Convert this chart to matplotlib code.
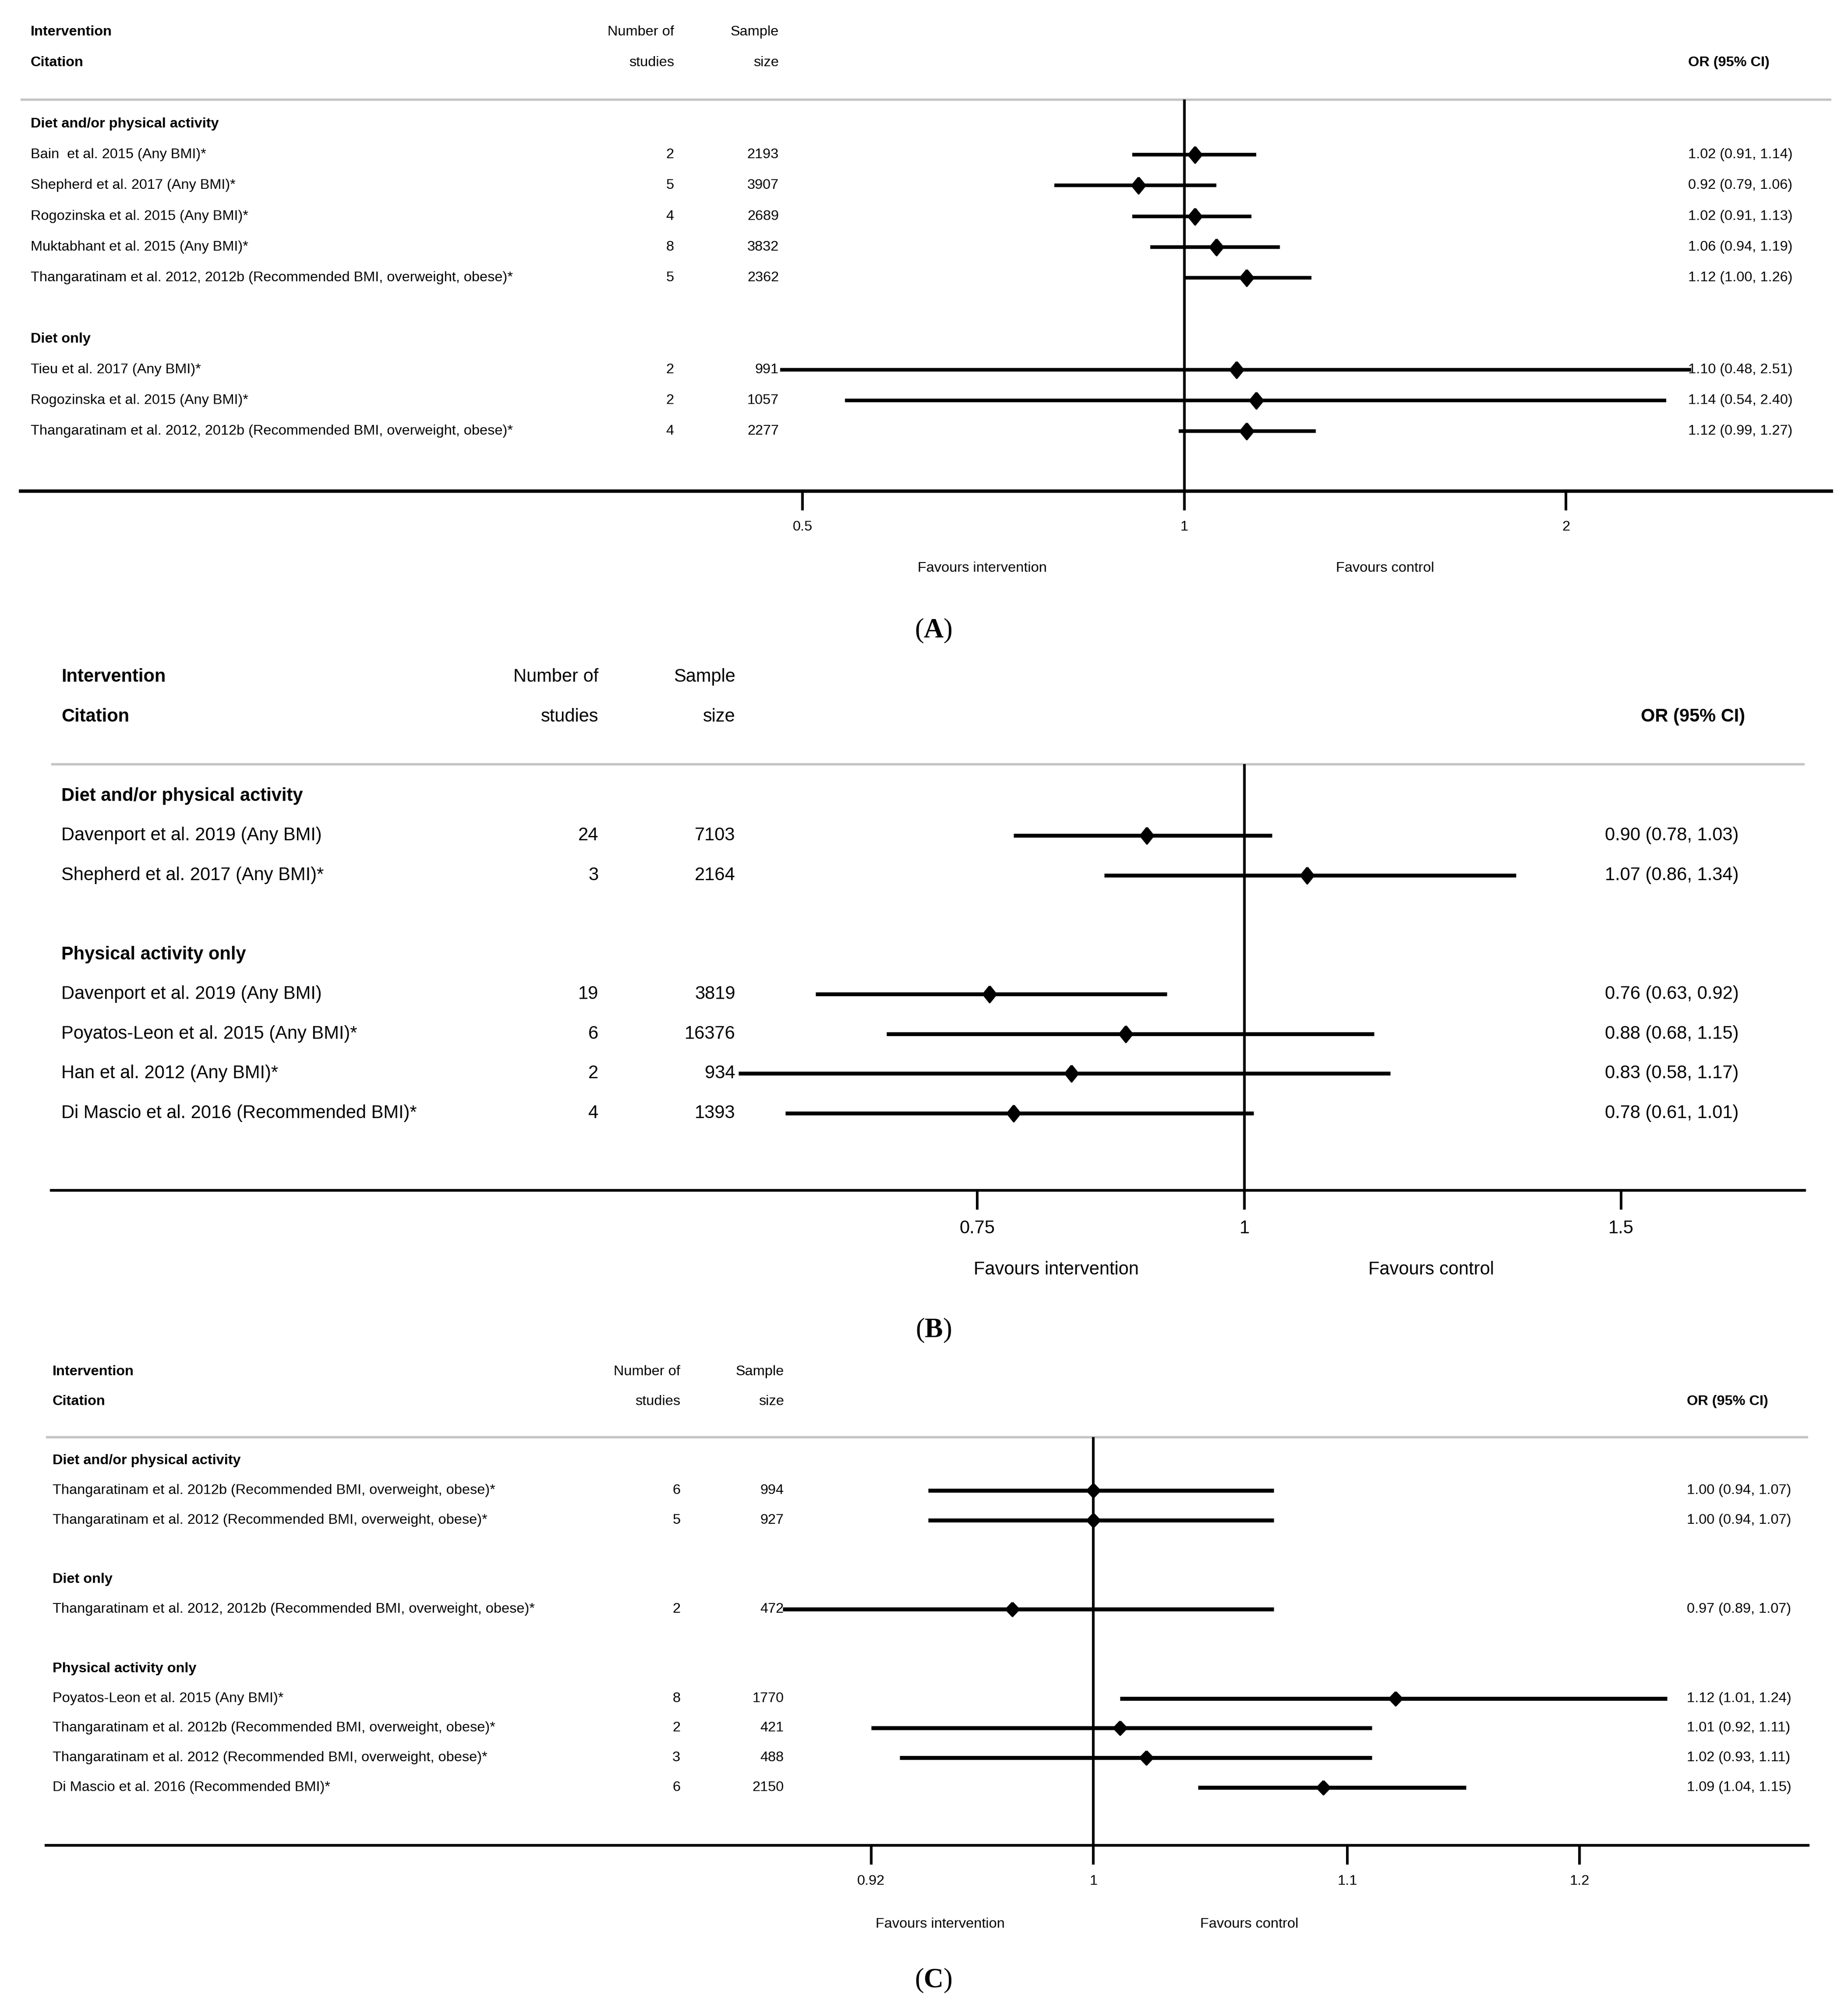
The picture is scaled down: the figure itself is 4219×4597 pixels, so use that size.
import matplotlib
matplotlib.use("Agg")
import matplotlib.pyplot as plt
from matplotlib import transforms
from matplotlib.ticker import NullLocator

plt.rcParams['font.family'] = ['Liberation Sans', 'DejaVu Sans']
plt.rcParams['mathtext.fontset'] = 'custom'
plt.rcParams['mathtext.rm'] = 'Liberation Serif'
plt.rcParams['mathtext.bf'] = 'Liberation Serif:bold'

# ---- panel A data
a_groups = ["Diet and/or physical activity", "Diet only"]
a_group_of = [0, 0, 0, 0, 0, 1, 1, 1]
a_cites = ["Bain  et al. 2015 (Any BMI)*",
           "Shepherd et al. 2017 (Any BMI)*",
           "Rogozinska et al. 2015 (Any BMI)*",
           "Muktabhant et al. 2015 (Any BMI)*",
           "Thangaratinam et al. 2012, 2012b (Recommended BMI, overweight, obese)*",
           "Tieu et al. 2017 (Any BMI)*",
           "Rogozinska et al. 2015 (Any BMI)*",
           "Thangaratinam et al. 2012, 2012b (Recommended BMI, overweight, obese)*"]
a_studies = [2, 5, 4, 8, 5, 2, 2, 4]
a_sample = [2193, 3907, 2689, 3832, 2362, 991, 1057, 2277]
a_or = [1.02, 0.92, 1.02, 1.06, 1.12, 1.10, 1.14, 1.12]
a_lo = [0.91, 0.79, 0.91, 0.94, 1.00, 0.48, 0.54, 0.99]
a_hi = [1.14, 1.06, 1.13, 1.19, 1.26, 2.51, 2.40, 1.27]
a_ticks = [0.5, 1, 2]
a_ticklabels = ["0.5", "1", "2"]

# ---- panel B data
b_groups = ["Diet and/or physical activity", "Physical activity only"]
b_group_of = [0, 0, 1, 1, 1, 1]
b_cites = ["Davenport et al. 2019 (Any BMI)",
           "Shepherd et al. 2017 (Any BMI)*",
           "Davenport et al. 2019 (Any BMI)",
           "Poyatos-Leon et al. 2015 (Any BMI)*",
           "Han et al. 2012 (Any BMI)*",
           "Di Mascio et al. 2016 (Recommended BMI)*"]
b_studies = [24, 3, 19, 6, 2, 4]
b_sample = [7103, 2164, 3819, 16376, 934, 1393]
b_or = [0.90, 1.07, 0.76, 0.88, 0.83, 0.78]
b_lo = [0.78, 0.86, 0.63, 0.68, 0.58, 0.61]
b_hi = [1.03, 1.34, 0.92, 1.15, 1.17, 1.01]
b_ticks = [0.75, 1, 1.5]
b_ticklabels = ["0.75", "1", "1.5"]

# ---- panel C data
c_groups = ["Diet and/or physical activity", "Diet only", "Physical activity only"]
c_group_of = [0, 0, 1, 2, 2, 2, 2]
c_cites = ["Thangaratinam et al. 2012b (Recommended BMI, overweight, obese)*",
           "Thangaratinam et al. 2012 (Recommended BMI, overweight, obese)*",
           "Thangaratinam et al. 2012, 2012b (Recommended BMI, overweight, obese)*",
           "Poyatos-Leon et al. 2015 (Any BMI)*",
           "Thangaratinam et al. 2012b (Recommended BMI, overweight, obese)*",
           "Thangaratinam et al. 2012 (Recommended BMI, overweight, obese)*",
           "Di Mascio et al. 2016 (Recommended BMI)*"]
c_studies = [6, 5, 2, 8, 2, 3, 6]
c_sample = [994, 927, 472, 1770, 421, 488, 2150]
c_or = [1.00, 1.00, 0.97, 1.12, 1.01, 1.02, 1.09]
c_lo = [0.94, 0.94, 0.89, 1.01, 0.92, 0.93, 1.04]
c_hi = [1.07, 1.07, 1.07, 1.24, 1.11, 1.11, 1.15]
c_ticks = [0.92, 1, 1.1, 1.2]
c_ticklabels = ["0.92", "1", "1.1", "1.2"]

FW, FH = 1445.0, 1574.0   # reference layout frame
fig = plt.figure(figsize=(4219 / 300, 4597 / 300), dpi=300)


def diamond(ratio):
    w = 0.5 * ratio
    return [(0, 0.5), (w, 0), (0, -0.5), (-w, 0), (0, 0.5)]


def draw_panel(left, right, y0, dy, xlim, groups, group_of, cites, studies, sample,
               est, lo, hi, ticks, ticklabels, cols, fs, lw_ci, lw_axis, ms, ratio,
               fav_x, fav_row, label, label_y):
    # row positions: group header, items, blank row between groups
    rows, grow = [], []
    y = 3
    for g in range(len(groups)):
        grow.append(y)
        n = group_of.count(g)
        rows += [y + 1 + i for i in range(n)]
        y += n + 2
    bottom = rows[-1] + 1.95
    gray = 2.2

    ax = fig.add_axes([left / FW, 1 - (y0 + dy * bottom) / FH,
                       (right - left) / FW, dy * (bottom + 0.5) / FH])
    ax.set_xscale('log')
    ax.set_xlim(*xlim)
    ax.set_ylim(bottom, -0.5)
    for s in ['top', 'left', 'right']:
        ax.spines[s].set_visible(False)
    ax.spines['bottom'].set_linewidth(lw_axis)
    ax.set_yticks([])
    ax.set_xticks(ticks)
    ax.set_xticklabels(ticklabels)
    ax.xaxis.set_minor_locator(NullLocator())
    ax.tick_params(axis='x', direction='out', length=10.5, width=1.45,
                   pad=5.5, labelsize=fs)

    ax.axhline(gray, color='#c4c4c4', lw=1.3)
    ax.vlines(1, gray, bottom, color='black', lw=1.45)
    ax.hlines(rows, lo, hi, color='black', lw=lw_ci, zorder=2)
    ax.plot(est, rows, linestyle='none', marker=diamond(ratio), ms=ms,
            color='black', zorder=3)

    tr = transforms.blended_transform_factory(ax.transAxes, ax.transData)
    fx = [(c - left) / (right - left) for c in cols]
    kw = dict(transform=tr, fontsize=fs, va='center')
    ax.text(fx[0], 0, "Intervention", fontweight='bold', ha='left', **kw)
    ax.text(fx[0], 1, "Citation", fontweight='bold', ha='left', **kw)
    ax.text(fx[1], 0, "Number of", ha='right', **kw)
    ax.text(fx[1], 1, "studies", ha='right', **kw)
    ax.text(fx[2], 0, "Sample", ha='right', **kw)
    ax.text(fx[2], 1, "size", ha='right', **kw)
    ax.text(fx[4], 1, "OR (95% CI)", fontweight='bold', ha='left', **kw)
    for g, name in enumerate(groups):
        ax.text(fx[0], grow[g], name, fontweight='bold', ha='left', **kw)
    for i, r in enumerate(rows):
        ax.text(fx[0], r, cites[i], ha='left', **kw)
        ax.text(fx[1], r, str(studies[i]), ha='right', **kw)
        ax.text(fx[2], r, str(sample[i]), ha='right', **kw)
        ax.text(fx[3], r, f"{est[i]:.2f} ({lo[i]:.2f}, {hi[i]:.2f})", ha='left', **kw)

    ax.text((fav_x[0] - left) / (right - left), fav_row, "Favours intervention",
            ha='center', **kw)
    ax.text((fav_x[1] - left) / (right - left), fav_row, "Favours control",
            ha='center', **kw)

    fig.text(730 / FW, 1 - label_y / FH, "($\\mathbf{" + label + "}$)",
             family='Liberation Serif', fontsize=15, ha='center', va='center')


draw_panel(16, 1432, 25, 24, (0.1209, 3.238), a_groups, a_group_of, a_cites,
           a_studies, a_sample, a_or, a_lo, a_hi, a_ticks, a_ticklabels,
           (24, 527, 609, 1320, 1320), 7.8, 2.0, 1.85, 8.9, 0.82,
           (768, 1083), 17.46, "A", 493)

draw_panel(40, 1411, 529, 31, (0.2766, 1.828), b_groups, b_group_of, b_cites,
           b_studies, b_sample, b_or, b_lo, b_hi, b_ticks, b_ticklabels,
           (48, 468, 575, 1255, 1283), 10, 2.1, 1.5, 8.9, 0.8,
           (826, 1119), 14.94, "B", 1040)

draw_panel(36, 1414, 1072, 23.21, (0.6752, 1.3075), c_groups, c_group_of, c_cites,
           c_studies, c_sample, c_or, c_lo, c_hi, c_ticks, c_ticklabels,
           (41, 532, 613, 1319, 1319), 7.8, 2.2, 1.5, 7.5, 0.95,
           (735, 977), 18.61, "C", 1548)

fig.savefig("out.png", dpi=300)
